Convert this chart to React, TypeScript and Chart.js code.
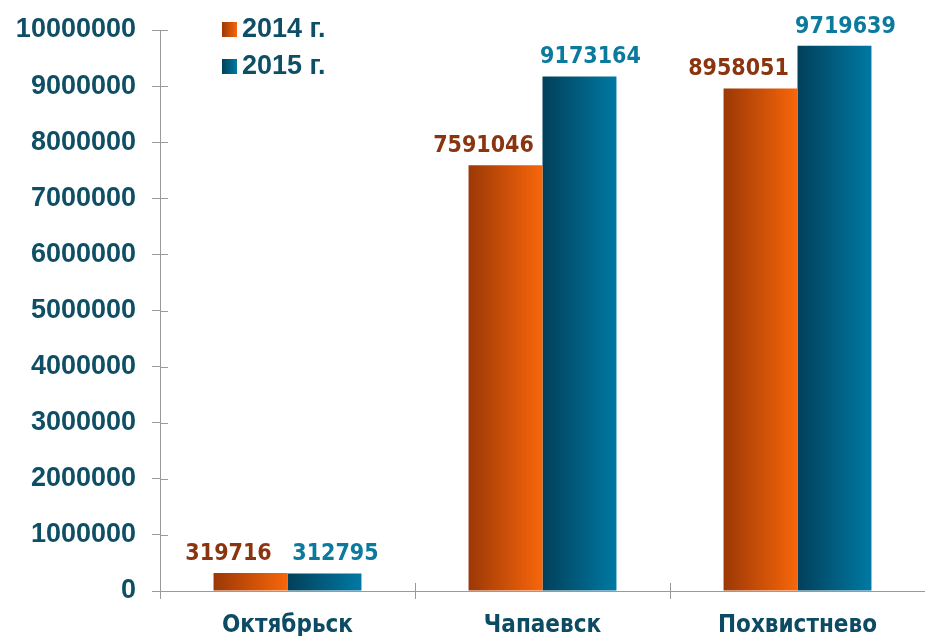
import React, { useEffect, useRef } from "react";
import { Chart, registerables } from "chart.js";

Chart.register(...registerables);

const categories = ["Октябрьск", "Чапаевск", "Похвистнево"];
const seriesLabels = ["2014 г.", "2015 г."];
const values2014 = [319716, 7591046, 8958051];
const values2015 = [312795, 9173164, 9719639];
const yMin = 0;
const yMax = 10000000;
const yStep = 1000000;

const gradStops = [
  ["#9c3806", "#f8660a"],
  ["#02405a", "#0079a3"],
];
const labelColors = ["#8a3510", "#0b7a9c"];
const tickColor = "#0e4f66";
const axisColor = "#9a9a9a";

const barStyler = {
  id: "barStyler",
  beforeDatasetsDraw(chart: any) {
    const ctx = chart.ctx;
    chart.data.datasets.forEach((_: any, di: number) => {
      const meta = chart.getDatasetMeta(di);
      meta.data.forEach((el: any) => {
        const w = el.width;
        const g = ctx.createLinearGradient(el.x - w / 2, 0, el.x + w / 2, 0);
        g.addColorStop(0, gradStops[di][0]);
        g.addColorStop(1, gradStops[di][1]);
        el.options = Object.assign({}, el.options, { backgroundColor: g });
      });
    });
  },
  afterDatasetsDraw(chart: any) {
    const ctx = chart.ctx;
    const offsets = [-22, 11];
    ctx.save();
    ctx.font = "bold 23px 'DejaVu Sans Condensed', 'DejaVu Sans', sans-serif";
    ctx.textAlign = "center";
    ctx.textBaseline = "alphabetic";
    chart.data.datasets.forEach((ds: any, di: number) => {
      const meta = chart.getDatasetMeta(di);
      meta.data.forEach((el: any, i: number) => {
        ctx.fillStyle = labelColors[di];
        ctx.fillText(String(ds.data[i]), el.x + offsets[di], el.y - 13);
      });
    });
    ctx.restore();
  },
  afterDraw(chart: any) {
    const ctx = chart.ctx;
    const area = chart.chartArea;
    ctx.save();
    ctx.strokeStyle = axisColor;
    ctx.lineWidth = 1;
    const ys = chart.scales.y;
    ys.ticks.forEach((_: any, i: number) => {
      const y = Math.round(ys.getPixelForTick(i)) + 0.5;
      ctx.beginPath();
      ctx.moveTo(area.left, y);
      ctx.lineTo(area.left + 8, y);
      ctx.stroke();
    });
    const xs = chart.scales.x;
    for (let i = 1; i < categories.length; i++) {
      const x = Math.round((xs.getPixelForTick(i - 1) + xs.getPixelForTick(i)) / 2) + 0.5;
      ctx.beginPath();
      ctx.moveTo(x, area.bottom);
      ctx.lineTo(x, area.bottom - 8);
      ctx.stroke();
    }
    const lx = area.left + 62;
    const rows = [area.top - 1, area.top + 36];
    ctx.font = "bold 27px 'Liberation Sans', Arial, sans-serif";
    ctx.textBaseline = "middle";
    ctx.textAlign = "left";
    seriesLabels.forEach((lab, di) => {
      const cy = rows[di];
      const g = ctx.createLinearGradient(lx, 0, lx + 15, 0);
      g.addColorStop(0, gradStops[di][0]);
      g.addColorStop(1, gradStops[di][1]);
      ctx.fillStyle = g;
      ctx.fillRect(lx, cy - 7, 15, 15);
      ctx.fillStyle = tickColor;
      ctx.fillText(lab, lx + 20, cy + 1);
    });
    ctx.restore();
  },
};

export default function App() {
  const ref = useRef<HTMLCanvasElement>(null);
  useEffect(() => {
    if (!ref.current) return;
    const chart = new Chart(ref.current, {
      type: "bar",
      data: {
        labels: categories,
        datasets: [
          { label: seriesLabels[0], data: values2014, backgroundColor: () => gradStops[0][1] },
          { label: seriesLabels[1], data: values2015, backgroundColor: () => gradStops[1][1] },
        ],
      },
      plugins: [barStyler],
      options: {
        responsive: false,
        animation: false,
        devicePixelRatio: 1,
        layout: { padding: { top: 30, right: 0, bottom: 0, left: 0 } },
        plugins: { legend: { display: false }, tooltip: { enabled: false } },
        datasets: { bar: { categoryPercentage: 0.58, barPercentage: 1 } },
        scales: {
          x: {
            grid: { display: true, offset: true, drawOnChartArea: false, tickLength: 8, color: axisColor },
            border: { color: axisColor },
            ticks: {
              color: "#0d4b64",
              padding: 12,
              font: { family: "'DejaVu Sans Condensed', 'DejaVu Sans', sans-serif", weight: "bold", size: 24 },
            },
            afterFit(scale: any) { scale.height = 45; },
          },
          y: {
            min: yMin,
            max: yMax,
            grid: { display: true, drawOnChartArea: false, tickLength: 8, color: axisColor },
            border: { color: axisColor },
            ticks: {
              stepSize: yStep,
              color: tickColor,
              padding: 16,
              callback: (v: any) => String(v),
              font: { family: "'Liberation Sans', Arial, sans-serif", weight: "bold", size: 27, lineHeight: 0.8 },
            },
            afterFit(scale: any) { scale.width = 160; },
          },
        },
      },
    } as any);
    return () => chart.destroy();
  }, []);
  return (
    <div style={{ position: "fixed", left: 0, top: 0, width: 925, height: 636, background: "#fff" }}>
      <canvas ref={ref} width={925} height={636} />
    </div>
  );
}
